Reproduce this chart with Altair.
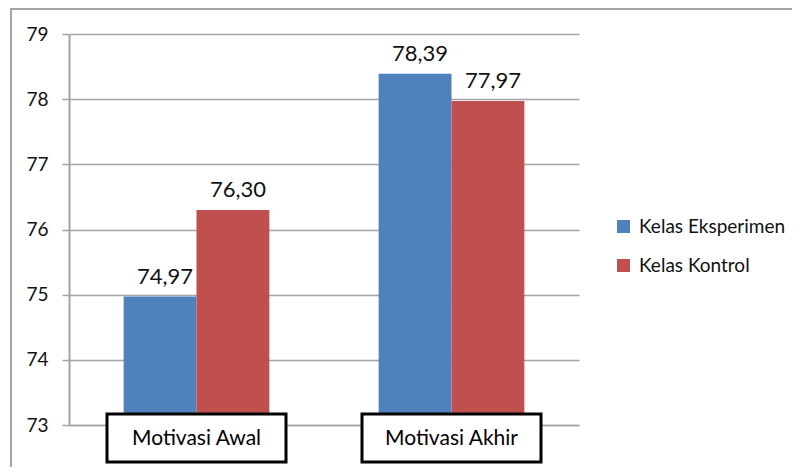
import altair as alt
import pandas as pd

categories = ["Motivasi Awal", "Motivasi Akhir"]
series = ["Kelas Eksperimen", "Kelas Kontrol"]
eksperimen = [74.97, 78.39]
kontrol = [76.30, 77.97]
colors = ["#4F81BD", "#C0504D"]
y_ticks = [73, 74, 75, 76, 77, 78, 79]

rows = []
for i, c in enumerate(categories):
    rows.append({"cat": c, "series": series[0], "value": eksperimen[i]})
    rows.append({"cat": c, "series": series[1], "value": kontrol[i]})
df = pd.DataFrame(rows)
cat_df = pd.DataFrame({"cat": categories})
frame_df = pd.DataFrame({"k": [0]})

FONT = "Lato"
GRID = "#a3a3a3"
TXT = "#111111"

x_enc = alt.X("cat:N", sort=categories, title=None,
              scale=alt.Scale(paddingInner=0.4286, paddingOuter=0.2143),
              axis=alt.Axis(labels=False, domainColor=GRID, domainWidth=1.5,
                            tickColor=GRID, tickWidth=1.5, tickSize=6,
                            tickBand="extent", grid=False))

y_scale = alt.Scale(domain=[73, 79], zero=False, nice=False)

bars = alt.Chart(df).mark_bar().encode(
    x=x_enc,
    xOffset=alt.XOffset("series:N", sort=series, scale=alt.Scale(paddingInner=0, paddingOuter=0)),
    y=alt.Y("value:Q", scale=y_scale, title=None,
            axis=alt.Axis(values=y_ticks, format="d", grid=True, gridColor=GRID, gridWidth=1.5,
                          domainColor=GRID, domainWidth=2, tickColor=GRID, tickWidth=1.5,
                          tickSize=7, labelPadding=14, labelFont=FONT, labelFontSize=19,
                          labelColor=TXT)),
    y2=alt.datum(73),
    color=alt.Color("series:N", sort=series, scale=alt.Scale(domain=series, range=colors),
                    legend=alt.Legend(title=None, orient="none", legendX=545, legendY=183,
                                      symbolType="square", symbolSize=169, symbolStrokeWidth=0,
                                      labelFont=FONT, labelFontSize=19, labelColor=TXT,
                                      labelOffset=6, rowPadding=19, padding=0)),
)

labels = alt.Chart(df).transform_calculate(
    label="replace(format(datum.value, '.2f'), '.', ',')"
).mark_text(font=FONT, fontSize=22, color=TXT, baseline="alphabetic", dy=-13, dx=5).encode(
    x=alt.X("cat:N", sort=categories),
    xOffset=alt.XOffset("series:N", sort=series),
    y=alt.Y("value:Q", scale=y_scale),
    text="label:N",
)

boxes = alt.Chart(cat_df).mark_bar(width=179, fill="white", stroke="black", strokeWidth=3).encode(
    x=alt.X("cat:N", sort=categories),
    y=alt.value(380),
    y2=alt.value(428),
)

box_text = alt.Chart(cat_df).mark_text(font=FONT, fontSize=21, color="black",
                                        baseline="middle").encode(
    x=alt.X("cat:N", sort=categories),
    y=alt.value(405),
    text="cat:N",
)

frame = alt.Chart(frame_df).mark_rect(fill="transparent", stroke="#a6a6a6", strokeWidth=2).encode(
    x=alt.value(-58), x2=alt.value(740), y=alt.value(-25), y2=alt.value(445)
)

chart = alt.layer(frame, bars, labels, boxes, box_text).properties(
    width=510, height=391,
    padding={"left": 61, "top": 26, "right": 213, "bottom": 42},
    autosize=alt.AutoSizeParams(type="none"),
).configure_view(stroke=None)

chart.save("out.html", embed_options={"renderer": "svg", "actions": False})
